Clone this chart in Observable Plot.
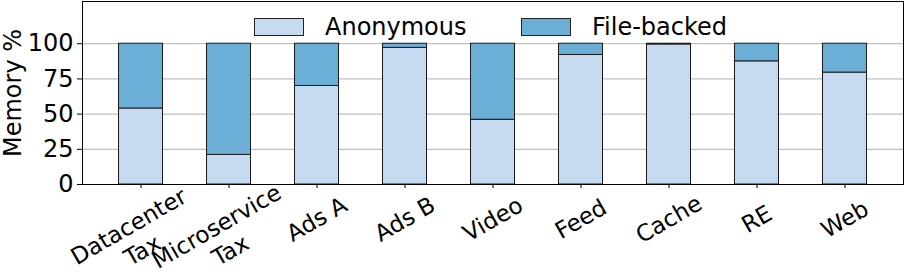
<!DOCTYPE html>
<html><head><meta charset="utf-8">
<script src="https://cdn.jsdelivr.net/npm/d3@7"></script>
<script src="https://cdn.jsdelivr.net/npm/@observablehq/plot@0.6"></script>
<style>
body{margin:0;background:#fff;font-family:"DejaVu Sans",sans-serif;}
#wrap{position:relative;width:905px;height:274px;}
.item{position:absolute;top:13px;display:flex;align-items:center;font-size:24px;color:#000;white-space:nowrap;}
.sw{width:48px;height:16px;border:1px solid #222;margin-right:21px;}
</style></head>
<body><div id="wrap"></div>
<script>
const categories = ["Datacenter\nTax","Microservice\nTax","Ads A","Ads B","Video","Feed","Cache","RE","Web"];
const anonymous  = [54, 21, 70, 97, 46, 92, 99.5, 87.5, 79.5];
const fileBacked = [46, 79, 30, 3, 54, 8, 0.5, 12.5, 20.5];
const seriesNames = ["Anonymous", "File-backed"];
const seriesColors = ["#c6dbef", "#6baed6"];
const yTicks = [0, 25, 50, 75, 100];

const rows = [];
categories.forEach((c, i) => {
  rows.push({category: c, type: seriesNames[0], value: anonymous[i]});
  rows.push({category: c, type: seriesNames[1], value: fileBacked[i]});
});
const twoLine = categories.filter(c => c.includes("\n"));
const oneLine = categories.filter(c => !c.includes("\n"));

const chart = Plot.plot({
  width: 905, height: 274,
  marginLeft: 82, marginRight: 2, marginTop: 1, marginBottom: 90,
  style: {fontFamily: "DejaVu Sans", background: "#fff", color: "#000"},
  x: {type: "band", domain: categories, paddingInner: 0.5, paddingOuter: 0.415, align: 0.5, round: false},
  y: {domain: [0, 130]},
  color: {domain: seriesNames, range: seriesColors},
  marks: [
    Plot.gridY(yTicks, {stroke: "#b0b0b0", strokeOpacity: 1, strokeWidth: 1}),
    Plot.barY(rows, {x: "category", y: "value", fill: "type", stroke: "#1a1a1a", strokeWidth: 1, order: seriesNames}),
    Plot.axisY(yTicks, {tickSize: 5, tickPadding: 4, fontSize: 24, label: "Memory %", labelAnchor: "center", labelArrow: "none"}),
    Plot.axisX({tickSize: 4, text: null, label: null}),
    Plot.text(oneLine, {x: d => d, frameAnchor: "bottom", dy: 35, rotate: -30, textAnchor: "middle", lineAnchor: "middle", fontSize: 23, fill: "#000"}),
    Plot.text(twoLine, {x: d => d, frameAnchor: "bottom", dy: 53, dx: -6, rotate: -30, textAnchor: "middle", lineAnchor: "middle", lineHeight: 1.2, fontSize: 23, fill: "#000"}),
    Plot.frame({stroke: "#000", strokeWidth: 1})
  ]
});
const wrap = document.getElementById("wrap");
wrap.appendChild(chart);
const lefts = [254, 521];
seriesNames.forEach((n, i) => {
  const it = document.createElement("div");
  it.className = "item";
  it.style.left = lefts[i] + "px";
  const sw = document.createElement("div");
  sw.className = "sw";
  sw.style.background = seriesColors[i];
  const t = document.createElement("span");
  t.textContent = n;
  it.appendChild(sw); it.appendChild(t);
  wrap.appendChild(it);
});
</script>
</body></html>
